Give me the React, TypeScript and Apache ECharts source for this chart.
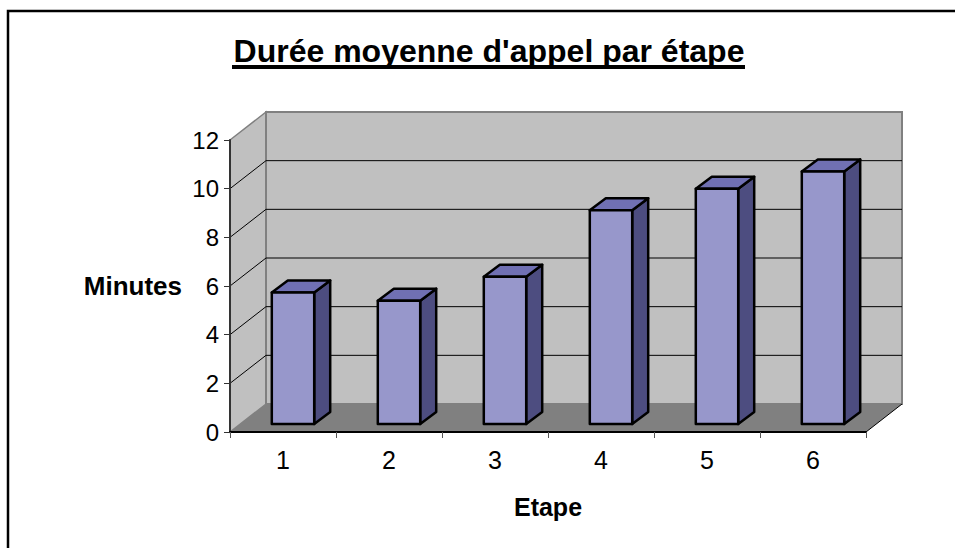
import React, { useEffect, useRef } from "react";
import * as echarts from "echarts";

const titleText = "Durée moyenne d'appel par étape";
const yAxisName = "Minutes";
const xAxisName = "Etape";
const categories = ["1", "2", "3", "4", "5", "6"];
const minutes = [5.4, 5.07, 6.05, 8.78, 9.67, 10.38];
const gridValues = [2, 4, 6, 8, 10];
const FONT = '"Liberation Sans", Arial, sans-serif';

const WALL_DX = 36;
const WALL_DY = 28;
const BAR_OFF_X = 10;
const BAR_OFF_Y = 8;
const BAR_DX = 16;
const BAR_DY = 12;

const wallItem = (params: any) => {
  const { x, y, width: w, height: h } = params.coordSys;
  const b = y + h;
  const r = x + w;
  const gray = "#808080";
  return {
    type: "group",
    children: [
      { type: "polygon", shape: { points: [[x, y], [x + WALL_DX, y - WALL_DY], [x + WALL_DX, b - WALL_DY], [x, b]] }, style: { fill: "#C0C0C0", stroke: gray, lineWidth: 1.5 } },
      { type: "rect", shape: { x: x + WALL_DX, y: y - WALL_DY, width: w, height: h }, style: { fill: "#C0C0C0", stroke: gray, lineWidth: 2 } },
      { type: "polygon", shape: { points: [[x, b], [x + WALL_DX, b - WALL_DY], [r + WALL_DX, b - WALL_DY], [r, b]] }, style: { fill: gray, stroke: gray, lineWidth: 0 } },
      { type: "line", shape: { x1: r, y1: b, x2: r + WALL_DX, y2: b - WALL_DY }, style: { stroke: "#000", lineWidth: 1 } },
    ],
  };
};

const gridItem = (params: any, api: any) => {
  const { x, width: w } = params.coordSys;
  const [, yp] = api.coord([0, api.value(0)]);
  const style = { stroke: "#000", lineWidth: 1 };
  return {
    type: "group",
    children: [
      { type: "line", shape: { x1: x, y1: yp, x2: x + WALL_DX, y2: yp - WALL_DY }, style },
      { type: "line", shape: { x1: x + WALL_DX, y1: yp - WALL_DY, x2: x + WALL_DX + w, y2: yp - WALL_DY }, style },
    ],
  };
};

const barItem = (_params: any, api: any) => {
  const [cx, y0] = api.coord([api.value(0), 0]);
  const [, yv] = api.coord([api.value(0), api.value(1)]);
  const bw = api.size([1, 0])[0] * 0.4;
  const l = cx + BAR_OFF_X - bw / 2;
  const r = l + bw;
  const t = yv - BAR_OFF_Y;
  const b = y0 - BAR_OFF_Y;
  const border = { stroke: "#000", lineWidth: 2.5, lineJoin: "round" };
  return {
    type: "group",
    children: [
      { type: "polygon", shape: { points: [[r, t], [r + BAR_DX, t - BAR_DY], [r + BAR_DX, b - BAR_DY], [r, b]] }, style: { fill: "#4D4D80", ...border } },
      { type: "polygon", shape: { points: [[l, t], [l + BAR_DX, t - BAR_DY], [r + BAR_DX, t - BAR_DY], [r, t]] }, style: { fill: "#7070B3", ...border } },
      { type: "rect", shape: { x: l, y: t, width: bw, height: b - t }, style: { fill: "#9797CB", ...border } },
    ],
  };
};

export default function App() {
  const ref = useRef<HTMLDivElement>(null);
  useEffect(() => {
    const chart = echarts.init(ref.current!, null, { renderer: "svg" });
    chart.setOption({
      animation: false,
      backgroundColor: "#fff",
      grid: { left: 230, right: 89, top: 140, bottom: 116 },
      xAxis: {
        type: "category",
        data: categories,
        z: 5,
        name: xAxisName,
        nameLocation: "middle",
        nameGap: 62,
        nameTextStyle: { fontFamily: FONT, fontSize: 25, fontWeight: "bold", color: "#000" },
        axisLine: { lineStyle: { color: "#000", width: 2 } },
        axisTick: { show: true, length: 6, lineStyle: { color: "#555", width: 1 } },
        axisLabel: { fontFamily: FONT, fontSize: 25, color: "#000", margin: 15 },
        splitLine: { show: false },
      },
      yAxis: {
        type: "value",
        min: 0,
        max: 12,
        interval: 2,
        z: 5,
        name: yAxisName,
        nameLocation: "middle",
        nameRotate: 0,
        nameGap: 48,
        nameTextStyle: { fontFamily: FONT, fontSize: 26, fontWeight: "bold", color: "#000" },
        axisLine: { show: true, lineStyle: { color: "#333", width: 2 } },
        axisTick: { show: true, length: 6, lineStyle: { color: "#333", width: 1 } },
        axisLabel: { fontFamily: FONT, fontSize: 24, color: "#000", margin: 11 },
        splitLine: { show: false },
      },
      series: [
        { type: "custom", name: "walls", z: 1, silent: true, data: [[0]], renderItem: wallItem, encode: { x: 0 } },
        { type: "custom", name: "grid", z: 2, silent: true, data: gridValues.map((v) => [v]), renderItem: gridItem, encode: { y: 0 } },
        { type: "custom", name: "Minutes", z: 3, data: minutes.map((v, i) => [i, v]), renderItem: barItem, encode: { x: 0, y: 1 } },
      ],
      graphic: [
        { type: "polyline", z: 10, shape: { points: [[8, 548], [8, 11], [955, 11]] }, style: { fill: "none", stroke: "#000", lineWidth: 2.5 } },
        { type: "text", z: 10, x: 489, y: 51, style: { text: titleText, fill: "#000", font: `bold 32px ${FONT}`, textAlign: "center", textVerticalAlign: "middle" } },
        { type: "rect", z: 10, shape: { x: 232, y: 65, width: 513, height: 4 }, style: { fill: "#000" } },
      ],
    });
    return () => chart.dispose();
  }, []);
  return <div ref={ref} style={{ position: "absolute", left: 0, top: 0, width: 955, height: 548 }} />;
}
